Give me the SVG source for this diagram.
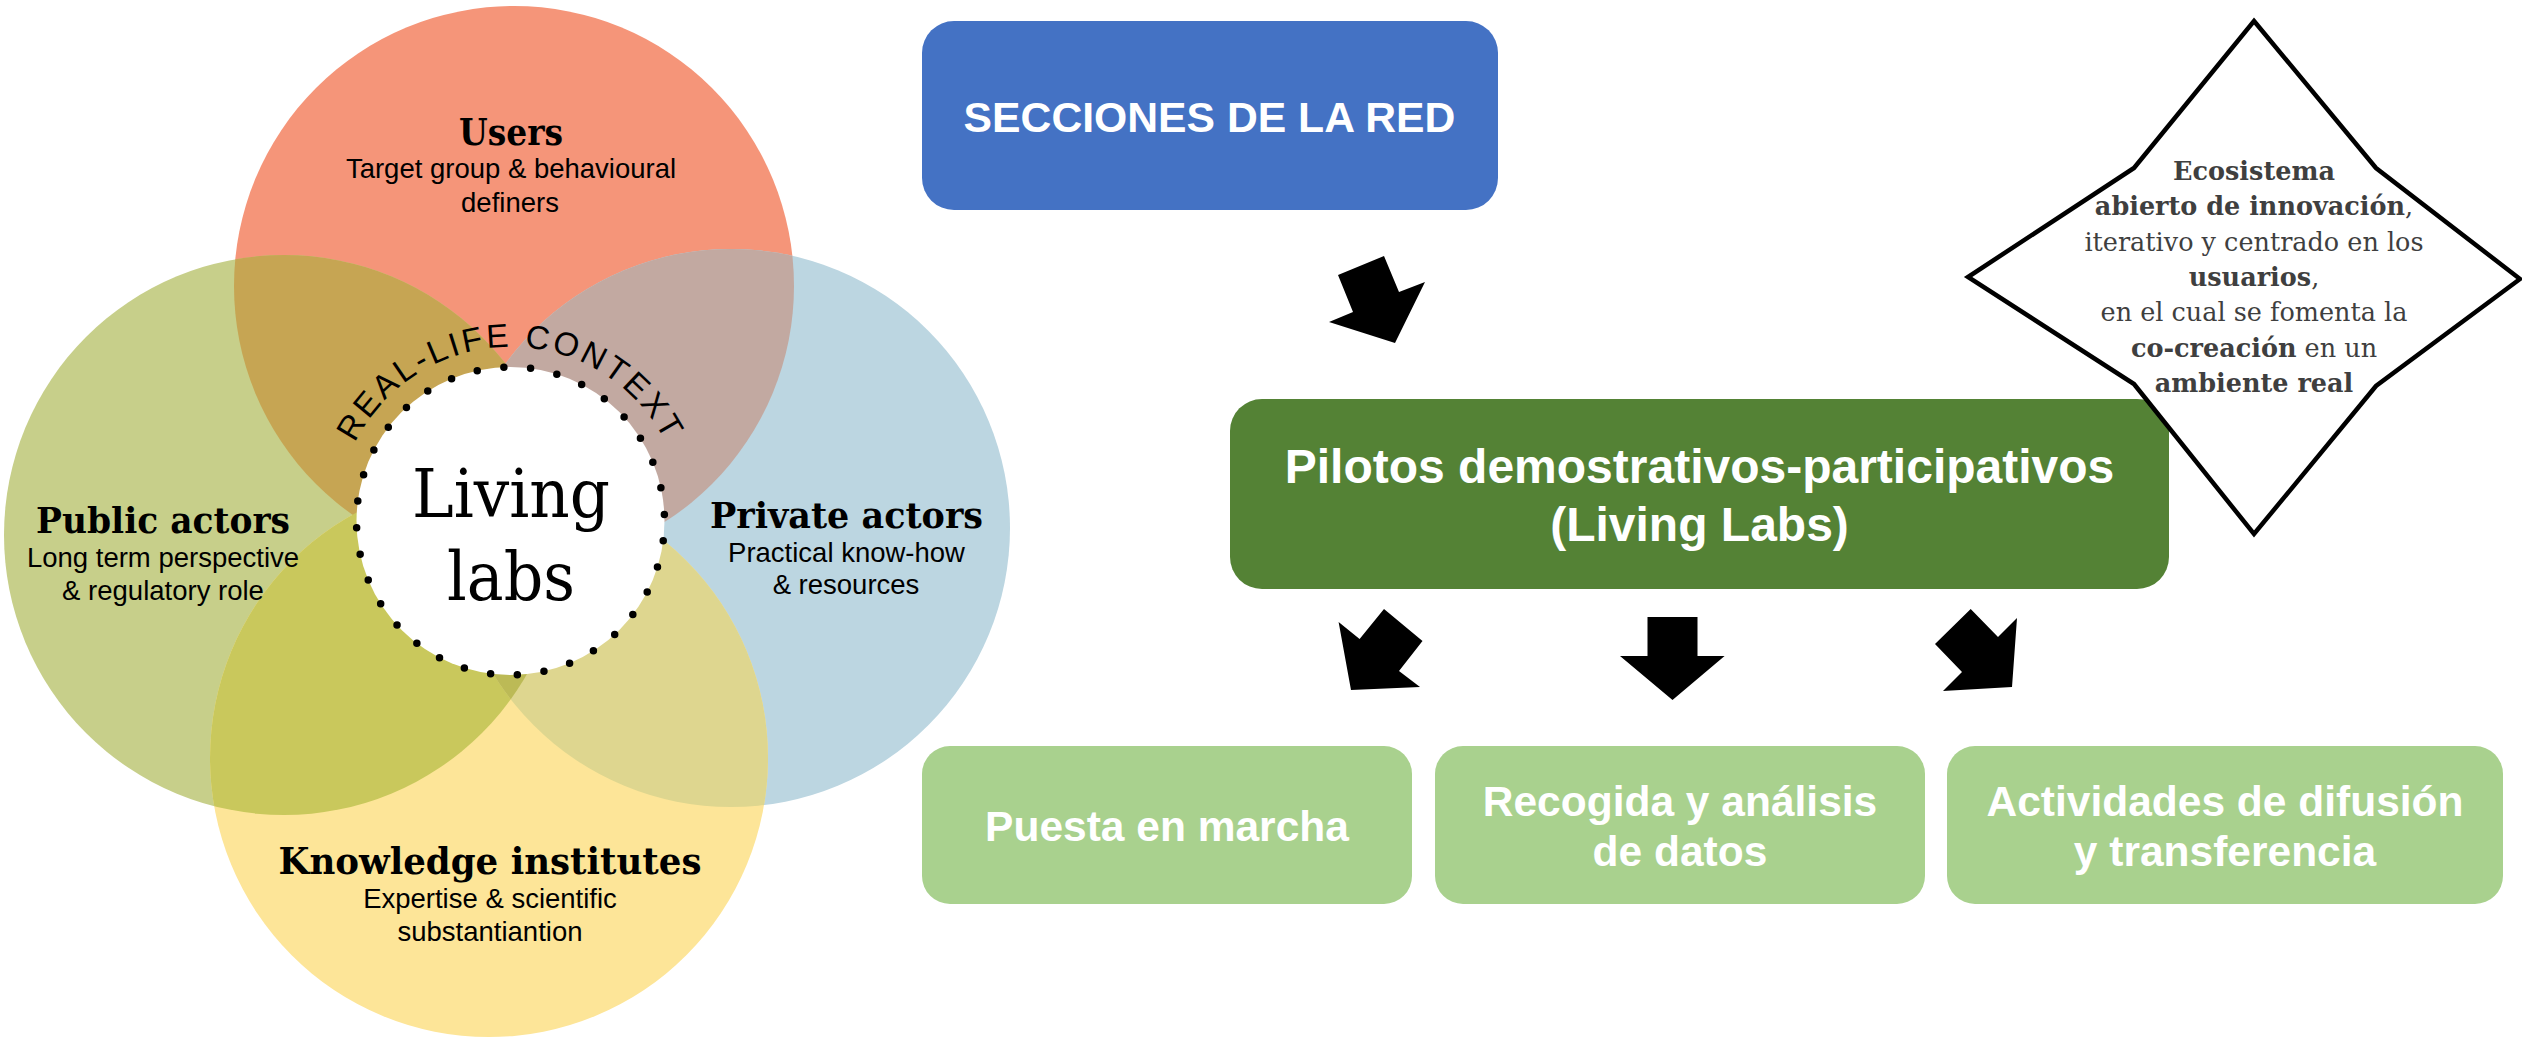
<svg xmlns="http://www.w3.org/2000/svg" width="2522" height="1040" viewBox="0 0 2522 1040">
<style>
.head{font-family:"DejaVu Serif","Liberation Serif",serif;font-weight:bold;fill:#000;text-anchor:middle}
.sub{font-family:"Liberation Sans",Arial,sans-serif;font-size:27.5px;fill:#000;text-anchor:middle}
.ll{font-family:"DejaVu Serif","Liberation Serif",serif;font-size:68px;fill:#000;text-anchor:middle}
.rl{font-family:"Liberation Sans",Arial,sans-serif;font-size:33px;letter-spacing:3px;fill:#000}
.bt{font-family:"Liberation Sans",Arial,sans-serif;font-weight:bold;fill:#fff;text-anchor:middle}
.dt{font-family:"DejaVu Serif","Liberation Serif",serif;font-size:25.5px;fill:#3f3f3f;text-anchor:middle}
.b{font-weight:bold}
.arrow{fill:#000}
</style>
<defs>
<clipPath id="cU"><circle cx="514" cy="286" r="280"/></clipPath>
<clipPath id="cG"><circle cx="284" cy="535" r="280"/></clipPath>
<clipPath id="cB"><circle cx="731" cy="528" r="279"/></clipPath>
<clipPath id="cK"><circle cx="489" cy="758" r="279"/></clipPath>
<path id="arcRL" d="M336.5,521 A174,174 0 0 1 684.5,521"/>
</defs>
<rect width="2522" height="1040" fill="#fff"/>

<g id="venn">
<circle cx="514" cy="286" r="280" fill="#f59579"/>
<circle cx="284" cy="535" r="280" fill="#c7cf8a"/>
<circle cx="731" cy="528" r="279" fill="#bcd6e1"/>
<circle cx="489" cy="758" r="279" fill="#fde598"/>
<circle cx="284" cy="535" r="280" fill="#c6a553" clip-path="url(#cU)"/>
<circle cx="731" cy="528" r="279" fill="#c2a9a1" clip-path="url(#cU)"/>
<circle cx="489" cy="758" r="279" fill="#c9c85c" clip-path="url(#cG)"/>
<circle cx="489" cy="758" r="279" fill="#ded68f" clip-path="url(#cB)"/>
<g clip-path="url(#cB)"><circle cx="489" cy="758" r="279" fill="#bcba56" clip-path="url(#cG)"/></g>
</g>

<g id="users">
<text class="head" x="511" y="145" font-size="38" textLength="104" lengthAdjust="spacingAndGlyphs">Users</text>
<text class="sub" x="511" y="178">Target group &amp; behavioural</text>
<text class="sub" x="510" y="212">definers</text>
</g>
<g id="public-actors">
<text class="head" x="163" y="533" font-size="35" textLength="254" lengthAdjust="spacingAndGlyphs">Public actors</text>
<text class="sub" x="163" y="567">Long term perspective</text>
<text class="sub" x="163" y="600">&amp; regulatory role</text>
</g>
<g id="private-actors">
<text class="head" x="846.5" y="527.5" font-size="35" textLength="273" lengthAdjust="spacingAndGlyphs">Private actors</text>
<text class="sub" x="846.5" y="562">Practical know-how</text>
<text class="sub" x="846" y="594">&amp; resources</text>
</g>
<g id="knowledge-institutes">
<text class="head" x="490" y="874" font-size="37" textLength="423" lengthAdjust="spacingAndGlyphs">Knowledge institutes</text>
<text class="sub" x="490" y="908">Expertise &amp; scientific</text>
<text class="sub" x="490" y="941">substantiantion</text>
</g>
<g id="living-labs">
<circle cx="510.5" cy="521" r="154" fill="#fff"/>
<circle cx="510.5" cy="521" r="154" fill="none" stroke="#000" stroke-width="7.5" stroke-linecap="round" stroke-dasharray="0 26.878" stroke-dashoffset="6.98"/>
<text class="ll" x="511" y="517" textLength="198" lengthAdjust="spacingAndGlyphs">Living</text>
<text class="ll" x="511" y="600" textLength="128" lengthAdjust="spacingAndGlyphs">labs</text>
<text class="rl"><textPath href="#arcRL" startOffset="50%" text-anchor="middle">REAL-LIFE CONTEXT</textPath></text>
</g>

<g id="secciones">
<rect x="922" y="21" width="576" height="189" rx="32" fill="#4472c4"/>
<text class="bt" x="1209.5" y="132" font-size="42.7">SECCIONES DE LA RED</text>
</g>
<g id="pilotos">
<rect x="1230" y="399" width="939" height="190" rx="32" fill="#548235"/>
<text class="bt" x="1699.5" y="483" font-size="48">Pilotos demostrativos-participativos</text>
<text class="bt" x="1699.5" y="541" font-size="48">(Living Labs)</text>
</g>
<g id="ecosistema">
<polygon points="2254,21 2376,168 2520,279 2376,386 2254,534 2134,384 1968,277 2134,168" fill="#fff" stroke="#000" stroke-width="4.5" stroke-linejoin="miter"/>
<text class="dt" x="2254" y="180"><tspan class="b">Ecosistema</tspan></text>
<text class="dt" x="2254" y="215"><tspan class="b">abierto de innovación</tspan>,</text>
<text class="dt" x="2254" y="251">iterativo y centrado en los</text>
<text class="dt" x="2254" y="286"><tspan class="b">usuarios</tspan>,</text>
<text class="dt" x="2254" y="321">en el cual se fomenta la</text>
<text class="dt" x="2254" y="357"><tspan class="b">co-creación</tspan> en un</text>
<text class="dt" x="2254" y="392"><tspan class="b">ambiente real</tspan></text>
</g>
<g id="puesta">
<rect x="922" y="746" width="490" height="158" rx="28" fill="#a9d18e"/>
<text class="bt" x="1167" y="841" font-size="42.5">Puesta en marcha</text>
</g>
<g id="recogida">
<rect x="1435" y="746" width="490" height="158" rx="28" fill="#a9d18e"/>
<text class="bt" x="1680" y="816" font-size="42.5">Recogida y análisis</text>
<text class="bt" x="1680" y="866" font-size="42.5">de datos</text>
</g>
<g id="actividades">
<rect x="1947" y="746" width="556" height="158" rx="28" fill="#a9d18e"/>
<text class="bt" x="2225" y="816" font-size="42.5">Actividades de difusión</text>
<text class="bt" x="2225" y="866" font-size="42.5">y transferencia</text>
</g>

<g id="connectors">
<polygon class="arrow" points="1384,256 1399,292 1425,282 1395,343 1329,322 1353,312 1338,275"/>
<polygon class="arrow" points="1384,609 1422.5,641 1399,671 1420,687 1351,690 1338.6,622 1359.6,639"/>
<polygon class="arrow" points="1647.5,617 1697.5,617 1697.5,656 1724.6,656 1672.5,700 1620,656 1647.5,656"/>
<polygon class="arrow" points="1970.7,609 1998,637 2017,618 2012,687 1943,691 1962,672 1935,644"/>
</g>
</svg>
